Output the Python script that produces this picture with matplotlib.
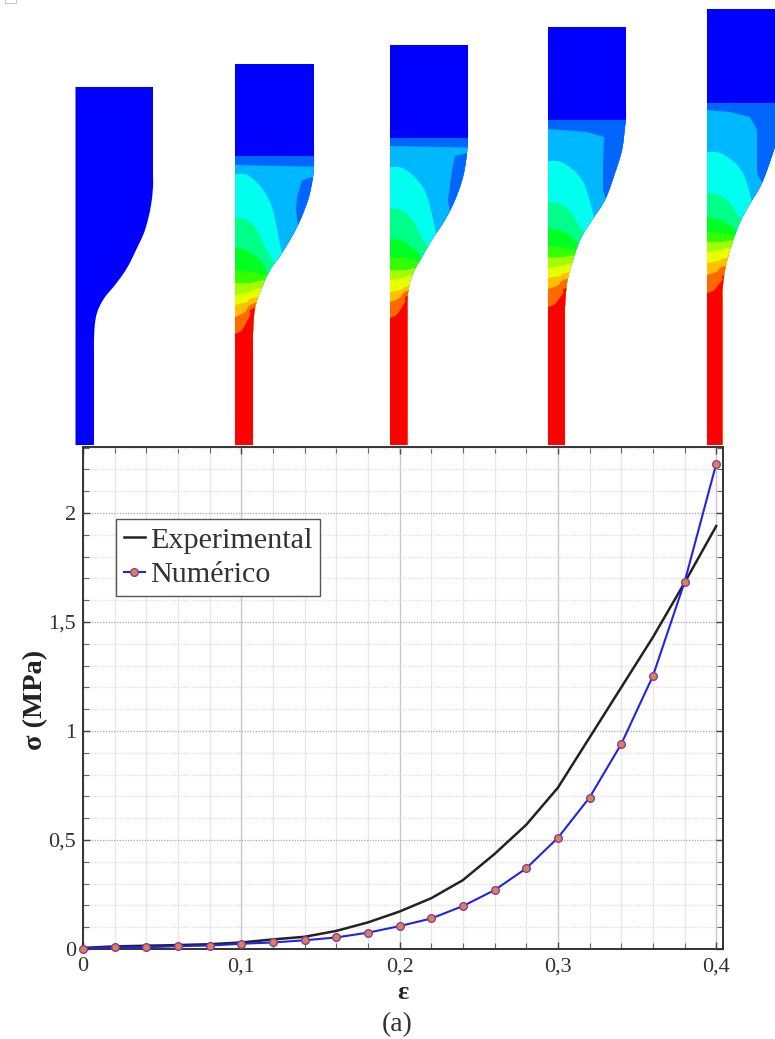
import matplotlib
matplotlib.use("Agg")
import matplotlib.pyplot as plt
import numpy as np
from matplotlib.patches import Polygon, Rectangle
from matplotlib.ticker import MultipleLocator, FuncFormatter

# curve data
strain_exp = [0, 0.02, 0.04, 0.06, 0.08, 0.10, 0.12, 0.14, 0.16, 0.18, 0.20, 0.22,
              0.24, 0.26, 0.28, 0.30, 0.32, 0.34, 0.36, 0.38, 0.40]
stress_exp = [0.005, 0.012, 0.015, 0.018, 0.022, 0.03, 0.044, 0.056, 0.083, 0.122, 0.172, 0.233,
              0.316, 0.436, 0.57, 0.74, 0.97, 1.20, 1.43, 1.68, 1.94]
strain_num = [0, 0.02, 0.04, 0.06, 0.08, 0.10, 0.12, 0.14, 0.16, 0.18, 0.20, 0.22,
              0.24, 0.26, 0.28, 0.30, 0.32, 0.34, 0.36, 0.38, 0.40]
stress_num = [0.002, 0.008, 0.008, 0.013, 0.016, 0.024, 0.03, 0.04, 0.053, 0.075, 0.105, 0.14,
              0.197, 0.27, 0.37, 0.51, 0.695, 0.94, 1.252, 1.683, 2.225]

# specimen outlines: left edge, top, and right edge points (x, y) in picture pixels
bottom_y = 445
spec_left = [75.5, 235, 390, 548, 707]
spec_top = [87, 64, 45, 27, 9]
spec_edge = [
    [(153, 187), (150.7, 207), (145, 230), (137, 248), (127, 268), (115, 285), (105, 297), (98, 310), (95, 323), (94, 340)],
    [(314, 165), (313, 177), (308, 200), (297, 227), (282, 253), (270, 270), (262, 287), (255, 308), (253, 333)],
    [(468, 137), (467, 153), (463, 177), (455, 200), (445, 220), (433, 238), (422, 257), (413, 273), (408, 293), (407.5, 317)],
    [(626, 118), (625, 127), (622, 150), (615, 173), (605, 200), (592, 220), (580, 240), (572, 263), (567, 283), (565, 307)],
    [(785, 103), (782, 125), (775, 147), (762, 183), (748, 207), (738, 227), (730, 250), (725, 270), (722.5, 290)],
]

# y of every colour band on the left edge of each deformed specimen
band_colors = ["#0066ff", "#00b8ff", "#00ffee", "#00ff88", "#00ff22", "#33ff00",
               "#a0ff00", "#e8ff00", "#ffc000", "#ff6a00", "#ff0000"]
band_levels = [
    [156, 165, 174, 217, 247, 270, 283, 295, 305, 317, 334],
    [138, 146, 167, 208, 238, 257, 270, 280, 292, 302, 318],
    [120, 129, 161, 202, 228, 246, 257, 268, 278, 289, 307],
    [103, 110, 152, 193, 217, 232, 242, 252, 263, 275, 293],
]
# vertical stretch of the band shapes on each deformed specimen
band_stretch = [1.0, 0.87, 0.74, 0.70]
# shape of each band's upper edge, offsets from its start on the left edge
band_shapes = [
    [(0, 0), (45, 0), (90, 0)],
    [(0, 0), (45, 1), (90, 2)],
    [(0, 0), (12, 1), (25, 12), (35, 28), (41, 50), (47, 79), (60, 120), (90, 140)],
    [(0, 0), (12, 3), (22, 13), (30, 30), (38, 44), (46, 50), (90, 60)],
    [(0, 0), (15, 5), (28, 17), (38, 28), (90, 40)],
    [(0, 0), (18, 2), (33, 5), (90, 5)],
    [(0, 0), (15, 0), (30, -3), (90, -10)],
    [(0, 0), (15, -3), (27, -7), (90, -15)],
    [(0, 0), (12, -3), (22, -8), (90, -20)],
    [(0, 0), (10, -5), (22, -15), (90, -35)],
    [(0, 0), (7, -4), (15, -18), (22, -27), (90, -40)],
]
# darker pocket near the shoulder of each deformed specimen
pockets = [
    [(320, 176), (312, 177), (302, 180), (297, 197), (296, 210), (298, 227), (320, 235)],
    [(480, 150), (467, 153), (455, 156), (452, 170), (448, 200), (450, 212), (480, 230)],
    [(640, 120), (548, 122), (548, 129), (587, 132), (604, 137), (603, 165), (603, 190), (606, 200), (640, 210)],
    [(790, 104), (707, 104), (707, 110), (730, 112), (750, 117), (757, 130), (757, 173), (762, 183), (800, 200)],
]

x_ticks = [0, 0.1, 0.2, 0.3, 0.4]
y_ticks = [0, 0.5, 1, 1.5, 2]


def smooth(points, n=10):
    # catmull-rom through the points, only to get round outlines
    pts = np.array(points, dtype=float)
    pts = np.vstack([2 * pts[0] - pts[1], pts, 2 * pts[-1] - pts[-2]])
    out = [tuple(pts[1])]
    for k in range(1, len(pts) - 2):
        p0, p1, p2, p3 = pts[k - 1], pts[k], pts[k + 1], pts[k + 2]
        for t in np.linspace(0, 1, n + 1)[1:]:
            q = 0.5 * (2 * p1 + (p2 - p0) * t + (2 * p0 - 5 * p1 + 4 * p2 - p3) * t ** 2
                       + (3 * p1 - p0 - 3 * p2 + p3) * t ** 3)
            out.append(tuple(q))
    return out


serif = ["Liberation Serif", "DejaVu Serif"]
fig = plt.figure(figsize=(7.75, 10.39), dpi=100)

# top strip, drawn in picture pixels
top = fig.add_axes([0, 0, 1, 1])
top.set_xlim(0, 775)
top.set_ylim(1039, 0)
top.axis("off")

top.add_patch(Rectangle((5, -2), 11, 5, fc="white", ec="#bbbbbb", lw=0.6, clip_on=False))

for i in range(5):
    left = spec_left[i]
    edge = spec_edge[i]
    curve = smooth([(edge[0][0], edge[0][1] - 12)] + edge + [(edge[-1][0], edge[-1][1] + 12)])
    outline = [(left, spec_top[i]), (edge[0][0], spec_top[i])] + curve + [(edge[-1][0], bottom_y), (left, bottom_y)]
    shape = Polygon(outline, closed=True, fc="#0000ff", ec="none")
    top.add_patch(shape)
    if i == 0:
        continue
    levels = band_levels[i - 1]
    stretch = band_stretch[i - 1]
    for level, color, offs in zip(levels, band_colors, band_shapes):
        line = smooth([(left + dx, level + dy * stretch) for dx, dy in offs])
        band = Polygon(line + [(left + 90, bottom_y), (left, bottom_y)], closed=True, fc=color, ec="none")
        top.add_patch(band)
        band.set_clip_path(shape)
        if color == "#00b8ff":
            pocket = Polygon(pockets[i - 1], closed=True, fc="#0066ff", ec="none")
            top.add_patch(pocket)
            pocket.set_clip_path(shape)

# stress-strain chart
ax = fig.add_axes([83 / 775, 1 - 949 / 1039, 640 / 775, 502 / 1039])
ax.set_xlim(0, 0.4043)
ax.set_ylim(0, 2.303)
ax.xaxis.set_major_locator(MultipleLocator(0.1))
ax.xaxis.set_minor_locator(MultipleLocator(0.02))
ax.yaxis.set_major_locator(MultipleLocator(0.5))
ax.yaxis.set_minor_locator(MultipleLocator(0.1))
ax.grid(True, axis="x", which="major", color="#c8c8c8", lw=1.0)
ax.grid(True, axis="x", which="minor", color="#e8e8e8", lw=1.0)
ax.grid(True, axis="y", which="major", color="#b4b4b4", lw=1.0, ls=(0, (1, 1)))
ax.grid(True, axis="y", which="minor", color="#e0e0e0", lw=1.0, ls=(0, (1, 1)))
ax.set_axisbelow(True)

ax.plot(strain_exp, stress_exp, color="#222222", lw=1.8, label="Experimental", zorder=3)
ax.plot(strain_num, stress_num, color="#2222e8", lw=1.5, marker="o", ms=5.5, mfc="#e0814a",
        mec="#7a3fb0", mew=1.0, label="Numérico", zorder=4, clip_on=False)

comma = FuncFormatter(lambda v, p: f"{v:g}".replace(".", ","))
ax.xaxis.set_major_formatter(comma)
ax.yaxis.set_major_formatter(comma)
ax.tick_params(axis="both", which="major", direction="in", length=5, width=1.0, color="#444444",
               top=True, right=True, labelsize=16, labelcolor="#333333")
ax.tick_params(axis="x", which="major", pad=6)
ax.tick_params(axis="y", which="major", pad=5)
ax.tick_params(axis="both", which="minor", direction="in", length=4, width=0.8, color="#666666",
               top=True, right=True)
for lab in ax.get_xticklabels() + ax.get_yticklabels():
    lab.set_family(serif)
for s in ax.spines.values():
    s.set_color("#333333")
    s.set_linewidth(1.4)

ax.set_xlabel("ε", fontsize=19, fontweight="bold", family=serif, color="#222222")
ax.xaxis.set_label_coords(0.500, -0.064)
ax.set_ylabel("σ (MPa)", fontsize=20.5, fontweight="bold", family=serif, color="#222222")
ax.yaxis.set_label_coords(-0.055, 0.497)

leg = ax.legend(loc="upper left", bbox_to_anchor=(0.0516, 0.8566), borderaxespad=0, fancybox=False,
                framealpha=1, edgecolor="#555555", prop={"family": serif, "size": 21.7},
                handlelength=0.72, handletextpad=0.15, labelspacing=0.25, borderpad=0.25)
leg.get_frame().set_linewidth(1.0)
for t in leg.get_texts():
    t.set_color("#333333")

fig.text(397 / 775, 1 - 1025 / 1039, "(a)", family=serif, fontsize=20, ha="center", va="center", color="#333333")

fig.savefig("out.png", dpi=100)
